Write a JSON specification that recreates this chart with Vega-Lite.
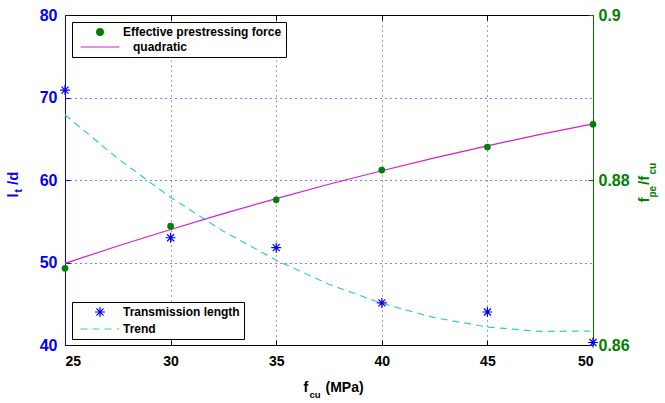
{
  "$schema": "https://vega.github.io/schema/vega-lite/v6.json",
  "width": 528,
  "height": 330,
  "autosize": {"type": "none"},
  "padding": {"left": 65, "top": 15, "right": 72, "bottom": 58},
  "background": "white",
  "config": {
    "font": "Liberation Sans",
    "view": {"stroke": null},
    "axis": {"labelFontWeight": "bold", "titleFontWeight": "bold", "labelFont": "Liberation Sans", "titleFont": "Liberation Sans"},
    "legend": {"labelFont": "Liberation Sans", "labelFontWeight": "bold", "labelFontSize": 12, "labelColor": "black"}
  },
  "datasets": {
    "lt": [
      {"fcu": 25, "v": 70.9, "series": "Transmission length"},
      {"fcu": 30, "v": 53.0, "series": "Transmission length"},
      {"fcu": 35, "v": 51.8, "series": "Transmission length"},
      {"fcu": 40, "v": 45.1, "series": "Transmission length"},
      {"fcu": 45, "v": 44.0, "series": "Transmission length"},
      {"fcu": 50, "v": 40.3, "series": "Transmission length"},
      {"fcu": 25, "v": 67.9, "series": "Trend"},
      {"fcu": 27.5, "v": 62.6, "series": "Trend"},
      {"fcu": 30, "v": 57.9, "series": "Trend"},
      {"fcu": 32.5, "v": 53.79, "series": "Trend"},
      {"fcu": 35, "v": 50.28, "series": "Trend"},
      {"fcu": 37.5, "v": 47.36, "series": "Trend"},
      {"fcu": 40, "v": 45.04, "series": "Trend"},
      {"fcu": 42.5, "v": 43.31, "series": "Trend"},
      {"fcu": 45, "v": 42.18, "series": "Trend"},
      {"fcu": 47.5, "v": 41.64, "series": "Trend"},
      {"fcu": 50, "v": 41.7, "series": "Trend"}
    ],
    "fpe": [
      {"fcu": 25, "v": 0.8693, "series": "Effective prestressing force"},
      {"fcu": 30, "v": 0.8744, "series": "Effective prestressing force"},
      {"fcu": 35, "v": 0.8776, "series": "Effective prestressing force"},
      {"fcu": 40, "v": 0.8812, "series": "Effective prestressing force"},
      {"fcu": 45, "v": 0.8840, "series": "Effective prestressing force"},
      {"fcu": 50, "v": 0.88675, "series": "Effective prestressing force"},
      {"fcu": 25, "v": 0.8699, "series": "quadratic"},
      {"fcu": 27.5, "v": 0.872, "series": "quadratic"},
      {"fcu": 30, "v": 0.874, "series": "quadratic"},
      {"fcu": 32.5, "v": 0.87592, "series": "quadratic"},
      {"fcu": 35, "v": 0.87774, "series": "quadratic"},
      {"fcu": 37.5, "v": 0.87948, "series": "quadratic"},
      {"fcu": 40, "v": 0.88112, "series": "quadratic"},
      {"fcu": 42.5, "v": 0.88268, "series": "quadratic"},
      {"fcu": 45, "v": 0.88414, "series": "quadratic"},
      {"fcu": 47.5, "v": 0.88552, "series": "quadratic"},
      {"fcu": 50, "v": 0.8868, "series": "quadratic"}
    ]
  },
  "layer": [
    {
      "data": {"name": "lt"},
      "encoding": {
        "x": {"field": "fcu", "type": "quantitative", "scale": {"domain": [25, 50], "nice": false, "zero": false},
          "axis": {"orient": "bottom", "values": [25, 30, 35, 40, 45, 50], "domainColor": "black", "tickColor": "black", "tickSize": -5,
            "labelColor": "black", "labelFontSize": 14, "labelPadding": 14, "grid": true, "gridColor": "#444444", "gridDash": [1, 4],
            "title": "f", "titleFontSize": 14, "titleColor": "black", "titleX": 238, "titleY": 46, "titleAlign": "left", "titleBaseline": "alphabetic", "titleAngle": 0}},
        "y": {"field": "v", "type": "quantitative", "scale": {"domain": [40, 80], "nice": false, "zero": false},
          "axis": {"orient": "left", "values": [40, 50, 60, 70, 80], "domainColor": "#0000ff", "tickColor": "#0000ff", "tickSize": -5,
            "labelColor": "#0000ff", "labelFontSize": 16, "labelPadding": 13, "grid": true, "gridColor": "#0000ff", "gridDash": [1, 4],
            "title": "l\u00a0\u00a0/d", "titleColor": "#0000ff", "titleFontSize": 15, "titleAngle": 270, "titleAlign": "left", "titleBaseline": "alphabetic", "titleX": -48, "titleY": 182}},
        "color": {"field": "series", "type": "nominal",
          "scale": {"domain": ["Transmission length", "Trend"], "range": ["#0000ff", "#33cccc"]},
          "legend": {"orient": "none", "legendX": 7, "legendY": 287, "title": null, "fillColor": "white", "strokeColor": "black", "padding": 4,
            "labelOffset": 35, "rowPadding": 3,
            "encode": {"symbols": {"update": {
              "x": {"value": 24},
              "shape": {"signal": "datum.value === 'Trend' ? 'stroke' : 'M-1,0L1,0M0,-1L0,1M-0.7,-0.7L0.7,0.7M-0.7,0.7L0.7,-0.7'"},
              "size": {"signal": "datum.value === 'Trend' ? 1500 : 100"},
              "strokeDash": {"signal": "datum.value === 'Trend' ? [7, 5] : [1, 0]"},
              "fill": {"value": "transparent"},
              "strokeWidth": {"value": 1.2}
            }}}}}
      },
      "layer": [
        {"transform": [{"filter": "datum.series === 'Trend'"}], "mark": {"type": "line", "strokeDash": [7, 5], "strokeWidth": 1.2}},
        {"transform": [{"filter": "datum.series === 'Transmission length'"}], "mark": {"type": "point", "shape": "M-1,0L1,0M0,-1L0,1M-0.7,-0.7L0.7,0.7M-0.7,0.7L0.7,-0.7", "filled": false, "size": 100, "strokeWidth": 1.2, "opacity": 1}}
      ]
    },
    {
      "data": {"name": "fpe"},
      "encoding": {
        "x": {"field": "fcu", "type": "quantitative", "scale": {"domain": [25, 50], "nice": false, "zero": false},
          "axis": {"orient": "top", "values": [25, 30, 35, 40, 45, 50], "domainColor": "black", "tickColor": "black", "tickSize": -5, "labels": false, "grid": false, "title": null}},
        "y": {"field": "v", "type": "quantitative", "scale": {"domain": [0.86, 0.9], "nice": false, "zero": false},
          "axis": {"orient": "right", "values": [0.86, 0.88, 0.9], "format": "~g", "domainColor": "#007000", "tickColor": "#007000", "tickSize": -5,
            "labelColor": "#008000", "labelFontSize": 16, "labelPadding": 10, "grid": false,
            "title": "f\u00a0\u00a0\u00a0/f", "titleColor": "#008000", "titleFontSize": 15, "titleAngle": 270, "titleAlign": "left", "titleBaseline": "alphabetic", "titleX": 55, "titleY": 187}},
        "color": {"field": "series", "type": "nominal",
          "scale": {"domain": ["Effective prestressing force", "quadratic"], "range": ["#008000", "#d020d0"]},
          "legend": {"orient": "none", "legendX": 7, "legendY": 7, "title": null, "fillColor": "white", "strokeColor": "black", "padding": 4,
            "labelOffset": 35, "rowPadding": 3,
            "encode": {
              "symbols": {"update": {
                "x": {"value": 24},
                "shape": {"signal": "datum.value === 'quadratic' ? 'stroke' : 'circle'"},
                "size": {"signal": "datum.value === 'quadratic' ? 1500 : 45"},
                "fill": {"signal": "datum.value === 'quadratic' ? 'transparent' : '#008000'"},
                "strokeWidth": {"value": 1.2}
              }},
              "labels": {"update": {"dx": {"signal": "datum.value === 'quadratic' ? 10 : 0"}}}
            }}}
      },
      "layer": [
        {"transform": [{"filter": "datum.series === 'quadratic'"}], "mark": {"type": "line", "strokeWidth": 1.2}},
        {"transform": [{"filter": "datum.series === 'Effective prestressing force'"}], "mark": {"type": "circle", "size": 45, "opacity": 1}}
      ]
    },
    {
      "data": {"name": "lt"},
      "mark": {"type": "point", "opacity": 0},
      "encoding": {
        "x": {"field": "fcu", "type": "quantitative", "scale": {"domain": [25, 50], "nice": false, "zero": false},
          "axis": {"orient": "bottom", "labels": false, "ticks": false, "domain": false, "grid": false,
            "title": "cu", "titleFontSize": 9.5, "titleColor": "black", "titleX": 244, "titleY": 52, "titleAlign": "left", "titleBaseline": "alphabetic", "titleAngle": 0}},
        "y": {"field": "v", "type": "quantitative", "scale": {"domain": [40, 80], "nice": false, "zero": false},
          "axis": {"orient": "left", "labels": false, "ticks": false, "domain": false, "grid": false,
            "title": "t", "titleColor": "#0000ff", "titleFontSize": 10, "titleAngle": 270, "titleAlign": "left", "titleBaseline": "alphabetic", "titleX": -44, "titleY": 177}}
      }
    },
    {
      "data": {"name": "fpe"},
      "mark": {"type": "point", "opacity": 0},
      "encoding": {
        "x": {"field": "fcu", "type": "quantitative", "scale": {"domain": [25, 50], "nice": false, "zero": false},
          "axis": {"orient": "bottom", "labels": false, "ticks": false, "domain": false, "grid": false,
            "title": "(MPa)", "titleFontSize": 14, "titleColor": "black", "titleX": 260, "titleY": 46, "titleAlign": "left", "titleBaseline": "alphabetic", "titleAngle": 0}},
        "y": {"field": "v", "type": "quantitative", "scale": {"domain": [0.86, 0.9], "nice": false, "zero": false},
          "axis": {"orient": "right", "labels": false, "ticks": false, "domain": false, "grid": false,
            "title": "pe", "titleColor": "#008000", "titleFontSize": 10, "titleAngle": 270, "titleAlign": "left", "titleBaseline": "alphabetic", "titleX": 62, "titleY": 182}}
      }
    },
    {
      "data": {"name": "fpe"},
      "mark": {"type": "point", "opacity": 0},
      "encoding": {
        "x": {"field": "fcu", "type": "quantitative", "scale": {"domain": [25, 50], "nice": false, "zero": false}, "axis": null},
        "y": {"field": "v", "type": "quantitative", "scale": {"domain": [0.86, 0.9], "nice": false, "zero": false},
          "axis": {"orient": "right", "labels": false, "ticks": false, "domain": false, "grid": false,
            "title": "cu", "titleColor": "#008000", "titleFontSize": 10, "titleAngle": 270, "titleAlign": "left", "titleBaseline": "alphabetic", "titleX": 62, "titleY": 159}}
      }
    }
  ],
  "resolve": {"scale": {"y": "independent", "color": "independent"}, "axis": {"x": "independent"}}
}
